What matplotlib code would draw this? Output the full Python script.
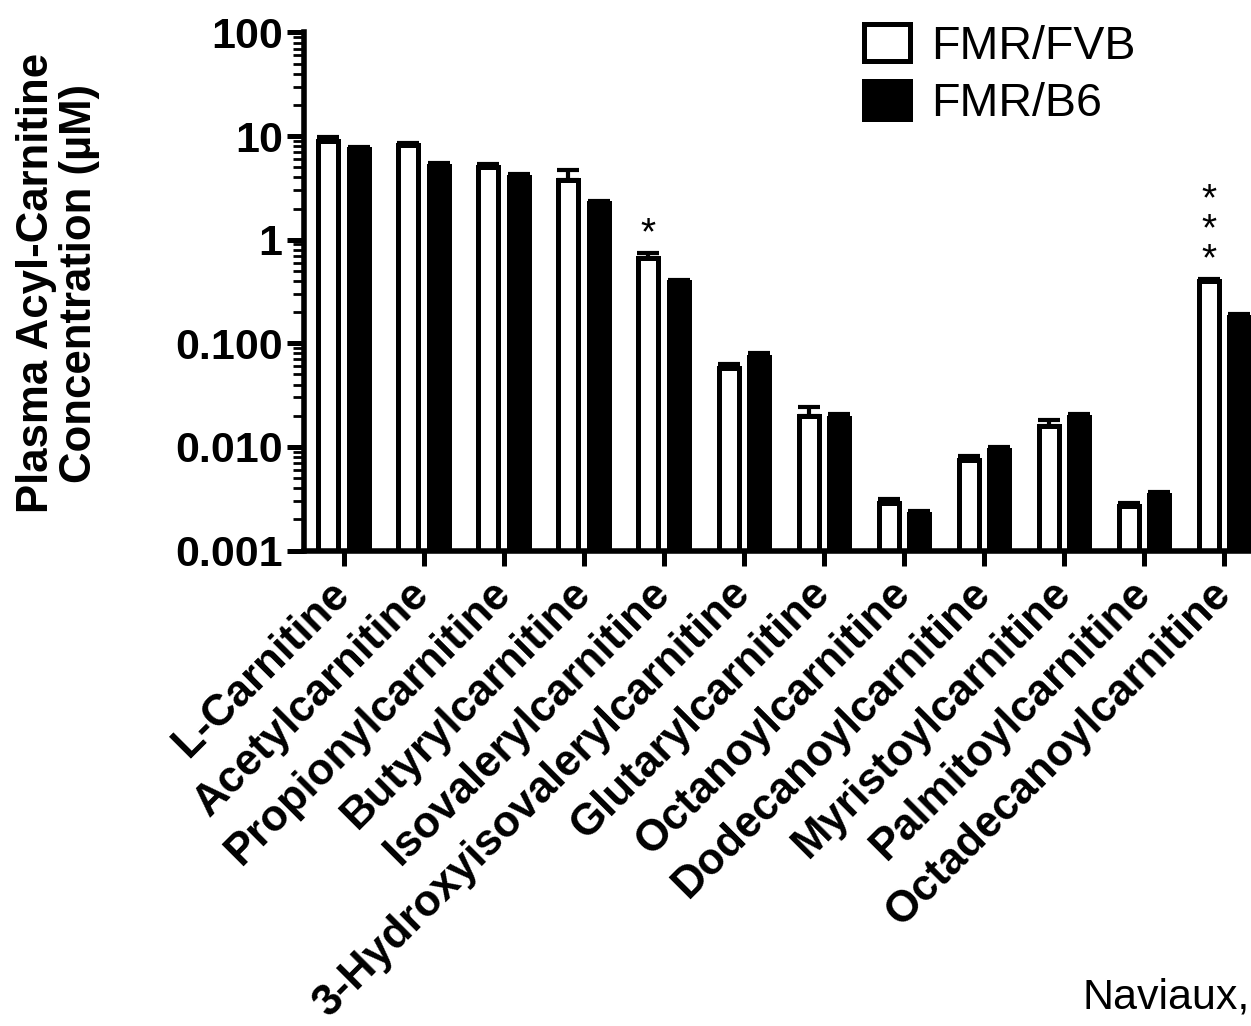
import matplotlib
matplotlib.use("Agg")
import matplotlib.pyplot as plt
import numpy as np
from matplotlib.patches import Patch
from matplotlib.ticker import FixedLocator, FixedFormatter, LogLocator, NullFormatter

plt.rcParams['font.family'] = ['Liberation Sans', 'DejaVu Sans']

categories = ["L-Carnitine", "Acetylcarnitine", "Propionylcarnitine", "Butyrylcarnitine",
              "Isovalerylcarnitine", "3-Hydroxyisovalerylcarnitine", "Glutarylcarnitine",
              "Octanoylcarnitine", "Dodecanoylcarnitine", "Myristoylcarnitine",
              "Palmitoylcarnitine", "Octadecanoylcarnitine"]
fvb_mean = [9.0, 8.2, 5.0, 3.8, 0.67, 0.058, 0.0197, 0.0029, 0.0075, 0.016, 0.0027, 0.40]
fvb_err = [0.7, 0.4, 0.4, 0.87, 0.075, 0.005, 0.0047, 0.00026, 0.00066, 0.0021, 0.00016, 0.02]
b6_mean = [7.5, 5.2, 4.0, 2.25, 0.39, 0.073, 0.019, 0.00226, 0.0093, 0.0195, 0.0034, 0.18]
b6_err = [0.3, 0.35, 0.35, 0.1, 0.02, 0.007, 0.0017, 0.00017, 0.0006, 0.0015, 0.00026, 0.01]
series_labels = ["FMR/FVB", "FMR/B6"]
ytick_values = [0.001, 0.01, 0.1, 1, 10, 100]
ytick_labels = ["0.001", "0.010", "0.100", "1", "10", "100"]
significance = {4: "*", 11: "***"}
ylabel_text = "Plasma Acyl-Carnitine\nConcentration (\u00b5M)"
credit_text = "Naviaux,"

W, H = 1251, 1026
fig = plt.figure(figsize=(W / 100, H / 100), dpi=100)
ax = fig.add_axes([303.5 / W, (H - 550.5) / H, (1262 - 303.5) / W, (550.5 - 32.5) / H])

x = np.arange(len(categories))
bw = 0.25
off = 0.19
lw = 3.6
ax.bar(x - off, fvb_mean, width=bw, color="white", edgecolor="black", linewidth=lw,
       zorder=2, label=series_labels[0])
ax.bar(x + off, b6_mean, width=bw, color="black", edgecolor="black", linewidth=lw,
       zorder=2, label=series_labels[1])
ax.errorbar(x - off, fvb_mean, yerr=[np.zeros(len(x)), fvb_err], fmt="none", ecolor="black",
            elinewidth=3.0, capsize=8, capthick=3.0, zorder=3)
ax.errorbar(x + off, b6_mean, yerr=[np.zeros(len(x)), b6_err], fmt="none", ecolor="black",
            elinewidth=3.0, capsize=8, capthick=3.0, zorder=3)

for i, stars in significance.items():
    top = fvb_mean[i] + fvb_err[i]
    ax.annotate("\n".join(stars), xy=(x[i] - off, top), xytext=(0, 6),
                textcoords="offset points", ha="center", va="baseline",
                fontsize=28, color="black", linespacing=0.78, multialignment="center")

ax.set_yscale("log")
ax.set_ylim(0.001, 100)
ax.set_xlim(-0.5, 11.475)

ax.yaxis.set_major_locator(FixedLocator(ytick_values))
ax.yaxis.set_major_formatter(FixedFormatter(ytick_labels))
ax.yaxis.set_minor_locator(LogLocator(base=10, subs=np.arange(2, 10), numticks=20))
ax.yaxis.set_minor_formatter(NullFormatter())

ax.set_xticks(x)
ax.set_xticklabels(categories, rotation=45, ha="right", va="center", rotation_mode="anchor",
                   fontsize=31.5, fontweight="bold")
for lab in ax.get_yticklabels():
    lab.set_fontsize(31)
    lab.set_fontweight("bold")

ax.tick_params(axis="y", which="major", direction="out", length=12, width=3.6, pad=3)
ax.tick_params(axis="y", which="minor", direction="out", length=8, width=2.0)
ax.tick_params(axis="x", which="major", direction="out", length=11, width=3.6, pad=15.5)

for s in ["top", "right"]:
    ax.spines[s].set_visible(False)
for s in ["left", "bottom"]:
    ax.spines[s].set_linewidth(4.0)
    ax.spines[s].set_capstyle("projecting")

handles = [Patch(facecolor="white", edgecolor="black", linewidth=lw, label=series_labels[0]),
           Patch(facecolor="black", edgecolor="black", linewidth=lw, label=series_labels[1])]
fig.legend(handles=handles, loc="upper left", bbox_to_anchor=(864 / W, 1 - 24 / H),
           frameon=False, fontsize=33.5, handlelength=0.98, handleheight=0.86,
           handletextpad=0.47, labelspacing=0.27, borderpad=0, borderaxespad=0)

fig.text(58 / W, 1 - 283 / H, ylabel_text, rotation=90, ha="center", va="center",
         multialignment="center", fontsize=31.5, fontweight="bold", linespacing=1.08)
fig.text(1083 / W, 1 - 1008 / H, credit_text, ha="left", va="baseline", fontsize=31)

fig.savefig("out.png", dpi=100)
